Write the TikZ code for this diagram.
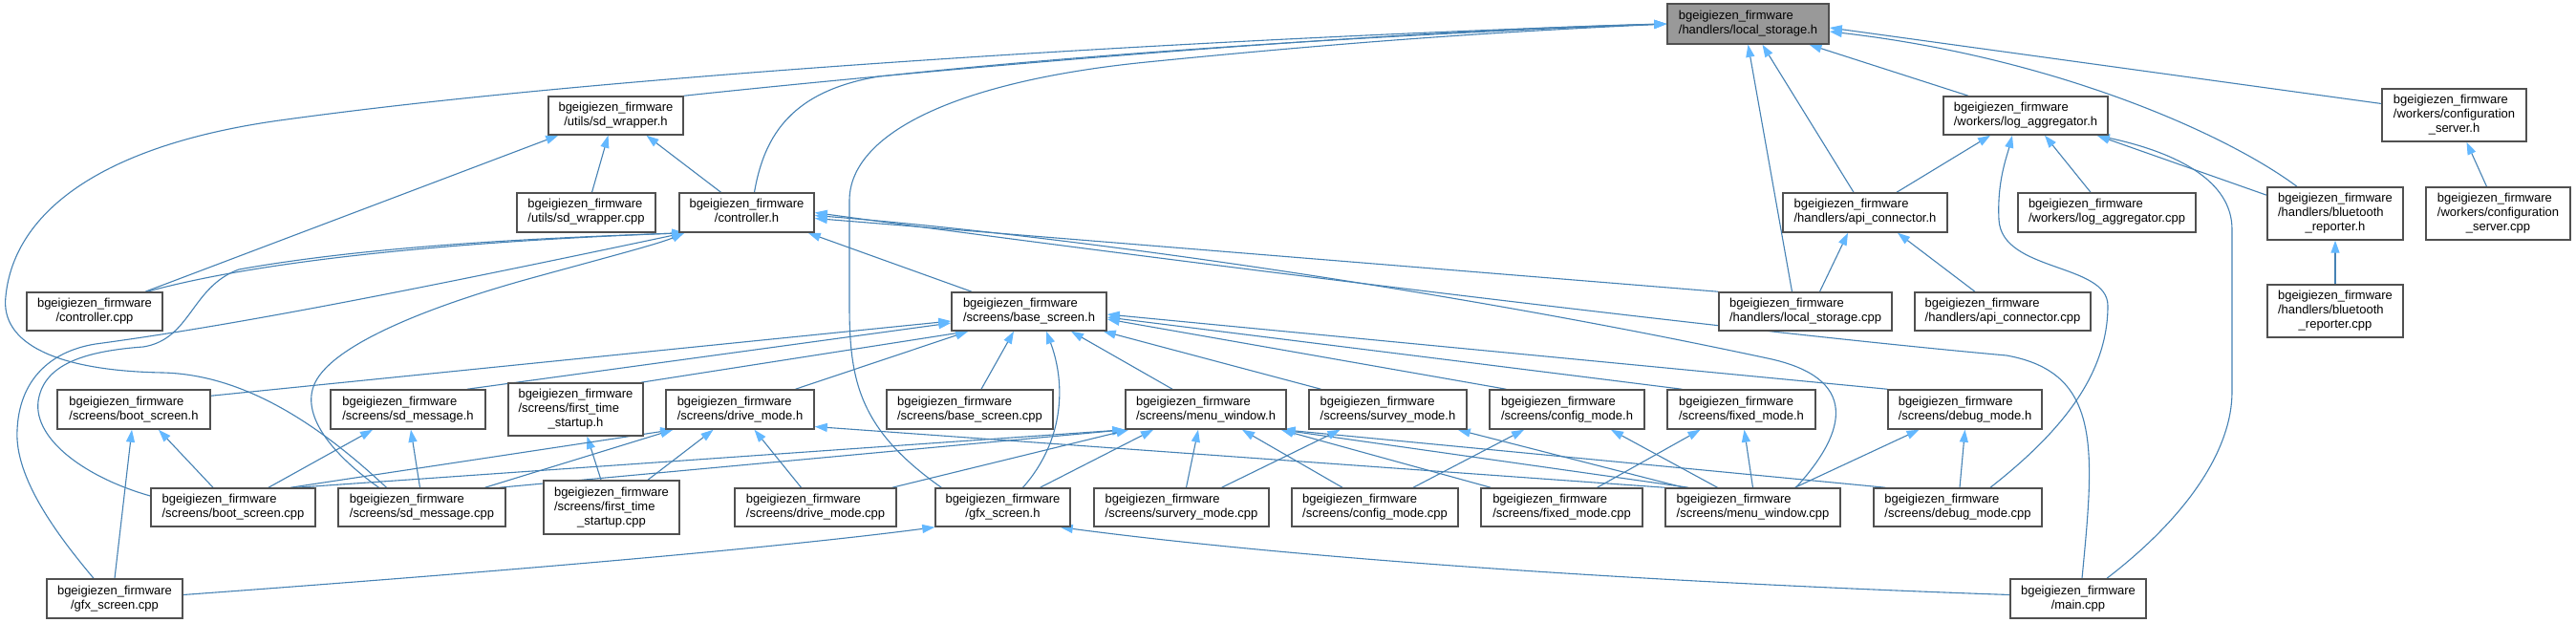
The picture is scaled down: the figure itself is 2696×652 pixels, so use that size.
\documentclass[tikz,border=0pt]{standalone}
\usepackage{fontspec}
\setmainfont{Liberation Sans}
\usetikzlibrary{arrows.meta}
\definecolor{lineblue}{RGB}{70,130,180}
\definecolor{headblue}{RGB}{99,184,255}
\definecolor{boxline}{RGB}{80,80,80}
\definecolor{lsfill}{RGB}{153,153,153}
\newcommand{\lbtwo}[1]{\begin{tabular}{@{}l@{}}bgeigiezen\_firmware\\\multicolumn{1}{@{}c@{}}{#1}\end{tabular}}
\newcommand{\lbthree}[2]{\begin{tabular}{@{}l@{}}bgeigiezen\_firmware\\#1\\\multicolumn{1}{@{}c@{}}{#2}\end{tabular}}
\newcommand{\bx}[7][]{\node[nd,#1,minimum width={(#5-#3)*1pt},minimum height={(#6-#4)*1pt}] (#2) at ({(#3+#5)/2},{(#4+#6)/2}) {#7};}
\pgfdeclarelayer{back}
\pgfdeclarelayer{bg}
\pgfsetlayers{back,bg,main}
\tikzset{
  nd/.style={draw=boxline, line width=1.5pt, fill=white, inner sep=0pt, font=\fontsize{13}{15}\selectfont},
  e/.style={draw=lineblue, line width=1.1pt, -{Triangle[length=13pt,width=9pt,color=headblue]}}
}
\begin{document}
\begin{tikzpicture}[x=1pt,y=-1pt]
\begin{pgfonlayer}{back}
\fill[white] (0,0) rectangle (2696,652);
\end{pgfonlayer}
\useasboundingbox (0,0) rectangle (2696,652);
% nodes
\bx[fill=lsfill]{LS}{1745}{4}{1914}{46}{\lbtwo{/handlers/local\_storage.h}}
\bx{SWH}{574}{101}{715}{141}{\lbtwo{/utils/sd\_wrapper.h}}
\bx{LAH}{2034}{101}{2206}{141}{\lbtwo{/workers/log\_aggregator.h}}
\bx{CSH}{2493}{93}{2644}{148}{\lbthree{/workers/configuration}{\_server.h}}
\bx{SWC}{541}{202}{686}{243}{\lbtwo{/utils/sd\_wrapper.cpp}}
\bx{CTH}{711}{202}{852}{243}{\lbtwo{/controller.h}}
\bx{APH}{1866}{202}{2038}{243}{\lbtwo{/handlers/api\_connector.h}}
\bx{LAC}{2112}{202}{2298}{243}{\lbtwo{/workers/log\_aggregator.cpp}}
\bx{BTH}{2373}{196}{2515}{251}{\lbthree{/handlers/bluetooth}{\_reporter.h}}
\bx{CSC}{2539}{196}{2690}{251}{\lbthree{/workers/configuration}{\_server.cpp}}
\bx{CTC}{28}{306}{170}{346}{\lbtwo{/controller.cpp}}
\bx{BSH}{996}{306}{1158}{346}{\lbtwo{/screens/base\_screen.h}}
\bx{LSC}{1799}{306}{1980}{346}{\lbtwo{/handlers/local\_storage.cpp}}
\bx{APC}{2004}{306}{2188}{346}{\lbtwo{/handlers/api\_connector.cpp}}
\bx{BTC}{2373}{298}{2515}{353}{\lbthree{/handlers/bluetooth}{\_reporter.cpp}}
\bx{BOH}{60}{408}{220}{449}{\lbtwo{/screens/boot\_screen.h}}
\bx{SMH}{346}{408}{508}{449}{\lbtwo{/screens/sd\_message.h}}
\bx{FTH}{532}{401}{673}{456}{\lbthree{/screens/first\_time}{\_startup.h}}
\bx{DMH}{697}{408}{852}{449}{\lbtwo{/screens/drive\_mode.h}}
\bx{BSC}{928}{408}{1102}{449}{\lbtwo{/screens/base\_screen.cpp}}
\bx{MWH}{1178}{408}{1346}{449}{\lbtwo{/screens/menu\_window.h}}
\bx{SVH}{1370}{408}{1535}{449}{\lbtwo{/screens/survey\_mode.h}}
\bx{CMH}{1559}{408}{1721}{449}{\lbtwo{/screens/config\_mode.h}}
\bx{FMH}{1745}{408}{1900}{449}{\lbtwo{/screens/fixed\_mode.h}}
\bx{DBH}{1976}{408}{2137}{449}{\lbtwo{/screens/debug\_mode.h}}
\bx{BOC}{158}{511}{330}{551}{\lbtwo{/screens/boot\_screen.cpp}}
\bx{SMC}{354}{511}{529}{551}{\lbtwo{/screens/sd\_message.cpp}}
\bx{FTC}{569}{503}{711}{559}{\lbthree{/screens/first\_time}{\_startup.cpp}}
\bx{DMC}{769}{511}{938}{551}{\lbtwo{/screens/drive\_mode.cpp}}
\bx{GFH}{979}{511}{1120}{551}{\lbtwo{/gfx\_screen.h}}
\bx{SVC}{1145}{511}{1328}{551}{\lbtwo{/screens/survery\_mode.cpp}}
\bx{CMC}{1352}{511}{1526}{551}{\lbtwo{/screens/config\_mode.cpp}}
\bx{FMC}{1550}{511}{1719}{551}{\lbtwo{/screens/fixed\_mode.cpp}}
\bx{MWC}{1743}{511}{1926}{551}{\lbtwo{/screens/menu\_window.cpp}}
\bx{DBC}{1961}{511}{2137}{551}{\lbtwo{/screens/debug\_mode.cpp}}
\bx{GFC}{49}{606}{191}{647}{\lbtwo{/gfx\_screen.cpp}}
\bx{MNC}{2104}{606}{2246}{647}{\lbtwo{/main.cpp}}
\begin{pgfonlayer}{bg}
% ---- to local_storage.h
\draw[e] (SWH.north east) .. controls (1000,70) and (1450,32) .. (LS.west);
\draw[e] ([xshift=8pt]CTH.north) .. controls (800,140) and (830,95) .. (920,80) .. controls (1200,50) and (1550,32) .. (LS.west);
\draw[e] ([xshift=7pt]GFH.north west) .. controls (900,450) and (889,400) .. (889,320) -- (889,210) .. controls (889,140) and (1000,85) .. (1200,65) .. controls (1450,40) and (1600,32) .. (LS.west);
\draw[e] ([xshift=-37pt]SMC.north) .. controls (340,450) and (260,392) .. (170,390) .. controls (60,388) and (0,360) .. (6,310) .. controls (15,220) and (110,150) .. (300,125) .. controls (700,70) and (1400,35) .. (LS.west);
\draw[e] ([xshift=-12pt]APH.north) -- ([xshift=15pt]LS.south);
\draw[e] ([xshift=-14pt]LSC.north) -- (LS.south);
\draw[e] ([xshift=-60pt]LAH.north) -- ([xshift=64pt]LS.south);
\draw[e] ([xshift=-40pt]BTH.north) .. controls (2330,140) and (2150,60) .. ([yshift=-8pt]LS.east);
\draw[e] ([yshift=12pt]CSH.west) -- ([yshift=-4pt]LS.east);
% ---- to sd_wrapper.h
\draw[e] ([xshift=53pt]CTC.north) -- ([xshift=11pt]SWH.south west);
\draw[e] ([xshift=6pt]SWC.north) -- ([xshift=-8pt]SWH.south);
\draw[e] ([xshift=-27pt]CTH.north) -- ([xshift=32pt]SWH.south);
% ---- to controller.h
\draw[e] ([xshift=55pt]CTC.north) .. controls (300,265) and (550,250) .. ([xshift=6pt]CTH.south west);
\draw[e] ([yshift=12pt]BOC.west) .. controls (90,500) and (35,460) .. (40,420) .. controls (45,385) and (80,368) .. (150,363) .. controls (200,355) and (200,300) .. (250,282) .. controls (400,255) and (600,248) .. ([xshift=6pt]CTH.south west);
\draw[e] ([xshift=-22pt]GFC.north) .. controls (60,560) and (15,500) .. (18,450) .. controls (20,400) and (50,368) .. (100,360) .. controls (250,340) and (450,300) .. ([xshift=6pt]CTH.south west);
\draw[e] ([xshift=-45pt]SMC.north) .. controls (340,470) and (315,430) .. (330,400) .. controls (350,360) and (450,320) .. (560,290) .. controls (640,268) and (690,255) .. ([xshift=6pt]CTH.south west);
\draw[e] ([xshift=-60pt]BSH.north) -- ([xshift=-7pt]CTH.south east);
\draw[e] (LSC.north west) -- ([yshift=-6pt]CTH.east);
\draw[e] ([xshift=45pt]MWC.north) .. controls (1935,450) and (1945,395) .. (1850,375) .. controls (1500,300) and (1100,245) .. ([yshift=-3pt]CTH.east);
\draw[e] ([xshift=4pt]MNC.north) .. controls (2192,470) and (2200,390) .. (2100,372) .. controls (1800,345) and (1200,270) .. (CTH.east);
% ---- to log_aggregator.h
\draw[e] ([xshift=30pt]MNC.north) .. controls (2290,540) and (2336,470) .. (2336,410) -- (2336,240) .. controls (2336,190) and (2280,160) .. ([xshift=-12pt]LAH.south east);
\draw[e] ([xshift=34pt]DBC.north) .. controls (2160,450) and (2206,390) .. (2206,320) .. controls (2206,275) and (2095,285) .. (2092,230) .. controls (2090,190) and (2100,165) .. ([xshift=-14pt]LAH.south);
\draw[e] ([xshift=33pt]APH.north) -- ([xshift=-37pt]LAH.south);
\draw[e] ([xshift=-17pt]LAC.north) -- ([xshift=20pt]LAH.south);
\draw[e] ([yshift=-9pt]BTH.north west) -- ([xshift=-12pt]LAH.south east);
% ---- handlers / workers
\draw[e] ([xshift=15pt]LSC.north) -- ([xshift=-18pt]APH.south);
\draw[e] ([xshift=-29pt]APC.north) -- ([xshift=34pt]APH.south);
\draw[e] (BTC.north) -- (BTH.south);
\draw[e] ([xshift=-12pt]CSC.north) -- ([xshift=13pt]CSH.south);
% ---- to base_screen.h
\draw[e] ([yshift=-7pt]BOH.north east) -- ([yshift=-10pt]BSH.west);
\draw[e] ([xshift=62pt]SMH.north) -- ([yshift=-12pt]BSH.west);
\draw[e] ([xshift=-3pt]FTH.north east) -- ([xshift=18pt]BSH.south west);
\draw[e] ([xshift=58pt]DMH.north) -- ([xshift=18pt]BSH.south west);
\draw[e] ([xshift=12pt]BSC.north) -- ([xshift=-16pt]BSH.south);
\draw[e] ([xshift=21pt]GFH.north) .. controls (1115,460) and (1115,400) .. ([xshift=18pt]BSH.south);
\draw[e] ([xshift=-35pt]MWH.north) -- ([xshift=44pt]BSH.south);
\draw[e] ([xshift=-70pt]SVH.north) -- ([xshift=-4pt]BSH.south east);
\draw[e] ([xshift=18pt]CMH.north west) -- ([yshift=-8pt]BSH.east);
\draw[e] ([xshift=16pt]FMH.north west) -- ([yshift=-6pt]BSH.east);
\draw[e] (DBH.north west) -- ([yshift=-3pt]BSH.east);
% ---- screens headers
\draw[e] ([xshift=-21pt]BOC.north) -- ([xshift=26pt]BOH.south);
\draw[e] (GFC.north) -- ([xshift=-2pt]BOH.south);
\draw[e] ([xshift=37pt]BOC.north) -- ([xshift=-37pt]SMH.south);
\draw[e] ([xshift=-2pt]SMC.north) -- ([xshift=3pt]SMH.south);
\draw[e] ([xshift=-11pt]FTC.north) -- ([xshift=12pt]FTH.south);
\draw[e] ([xshift=60pt]BOC.north) -- ([xshift=8pt]DMH.south west);
\draw[e] ([xshift=66pt]SMC.north) -- ([xshift=8pt]DMH.south west);
\draw[e] ([xshift=38pt]FTC.north) -- ([xshift=-28pt]DMH.south);
\draw[e] ([xshift=-15pt]DMC.north) -- ([xshift=15pt]DMH.south);
\draw[e] (MWC.north west) -- ([yshift=-18pt]DMH.east);
% ---- to menu_window.h
\draw[e] ([xshift=66pt]BOC.north) -- (MWH.south west);
\draw[e] ([xshift=-7pt]SMC.north east) -- (MWH.south west);
\draw[e] ([xshift=-5pt]DMC.north east) -- ([xshift=4pt]MWH.south west);
\draw[e] ([xshift=39pt]GFH.north) -- ([xshift=-55pt]MWH.south);
\draw[e] ([xshift=5pt]SVC.north) -- ([xshift=-8pt]MWH.south);
\draw[e] ([xshift=-34pt]CMC.north) -- ([xshift=38pt]MWH.south);
\draw[e] ([xshift=11pt]FMC.north west) -- ([xshift=-6pt]MWH.south east);
\draw[e] ([xshift=25pt]MWC.north west) -- ([xshift=-6pt]MWH.south east);
\draw[e] ([xshift=13pt]DBC.north west) -- ([xshift=-4pt]MWH.south east);
% ---- other screen headers
\draw[e] ([xshift=42pt]SVC.north) -- ([xshift=-50pt]SVH.south);
\draw[e] ([xshift=20pt]MWC.north west) -- ([xshift=-10pt]SVH.south east);
\draw[e] ([xshift=40pt]CMC.north) -- ([xshift=-45pt]CMH.south);
\draw[e] ([xshift=-37pt]MWC.north) -- ([xshift=46pt]CMH.south);
\draw[e] ([xshift=37pt]FMC.north) -- ([xshift=-43pt]FMH.south);
\draw[e] (MWC.north) -- ([xshift=3pt]FMH.south);
\draw[e] ([xshift=44pt]MWC.north) -- ([xshift=-48pt]DBH.south);
\draw[e] ([xshift=2pt]DBC.north) -- (DBH.south);
% ---- to gfx_screen.h
\draw[e] ([yshift=4pt]GFC.east) .. controls (500,600) and (800,575) .. (GFH.south west);
\draw[e] ([yshift=4pt]MNC.west) .. controls (1800,612) and (1400,590) .. ([xshift=-11pt]GFH.south east);
\end{pgfonlayer}
\end{tikzpicture}
\end{document}
